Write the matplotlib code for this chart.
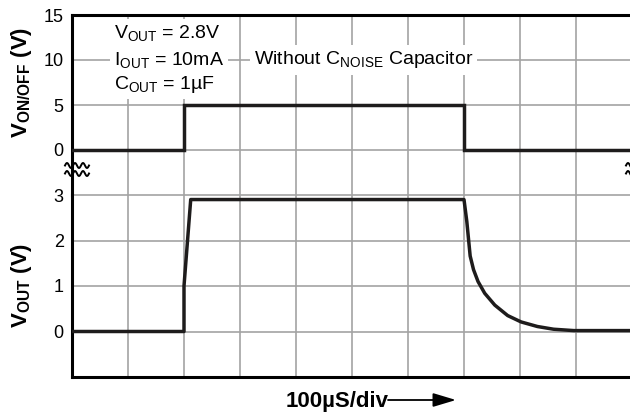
import matplotlib.pyplot as plt
from matplotlib.patches import FancyArrowPatch
import numpy as np

plt.rcParams['font.family'] = 'Liberation Sans'
plt.rcParams['mathtext.fontset'] = 'custom'
plt.rcParams['mathtext.rm'] = 'Liberation Sans'
plt.rcParams['mathtext.bf'] = 'Liberation Sans:bold'
plt.rcParams['mathtext.it'] = 'Liberation Sans:italic'

# time axis in divisions (100us/div)
t_onoff = [0, 2.0, 2.0, 7.0, 7.0, 10]
v_onoff = [0, 0, 5, 5, 0, 0]

t_out = [0, 2.0, 2.0, 2.12, 7.0, 7.05, 7.11, 7.17, 7.25, 7.37, 7.55, 7.78,
         8.02, 8.31, 8.6, 8.96, 10]
v_out = [0, 0, 1.0, 2.9, 2.9, 2.42, 1.66, 1.36, 1.10, 0.84, 0.58, 0.35,
         0.21, 0.11, 0.05, 0.02, 0.02]

top_ticks = [0, 5, 10, 15]
bot_ticks = [0, 1, 2, 3]

W, H = 630, 416
GRID = '#a3a3a3'
TRACE = '#1e1c1c'


def box(x0, y0, x1, y1):
    return [x0 / W, 1 - y1 / H, (x1 - x0) / W, (y1 - y0) / H]


fig = plt.figure(figsize=(6.3, 4.16), dpi=100)
ax_top = fig.add_axes(box(72, 15, 632, 195))
ax_bot = fig.add_axes(box(72, 195, 632, 377))

for ax in (ax_top, ax_bot):
    ax.set_xlim(0, 10)
    ax.set_xticks(range(11))
    ax.set_xticklabels([])
    ax.grid(True, color=GRID, lw=1.2)
    ax.set_axisbelow(True)
    ax.tick_params(length=0, labelsize=13, pad=6)
    for s in ax.spines.values():
        s.set_linewidth(2.2)
        s.set_color('black')

ax_top.set_ylim(-5, 15)
ax_top.set_yticks([-5] + top_ticks)
ax_top.set_yticklabels([''] + [str(v) for v in top_ticks])
ax_top.spines['bottom'].set_visible(False)
ax_top.spines['right'].set_visible(False)

ax_bot.set_ylim(-1, 3)
ax_bot.set_yticks(bot_ticks)
ax_bot.set_yticklabels([str(v) for v in bot_ticks])
ax_bot.spines['top'].set_visible(False)
ax_bot.spines['right'].set_visible(False)

ax_top.plot(t_onoff, v_onoff, color=TRACE, lw=2.5, solid_joinstyle='miter', zorder=4)
ax_bot.plot(t_out, v_out, color=TRACE, lw=2.5, solid_joinstyle='round', zorder=4)

# conditions text
bb = dict(facecolor='white', edgecolor='none', pad=3)
fs = 14
ax_top.text(0.75, 13.0, r'$\mathregular{V_{OUT}}$ = 2.8V', fontsize=fs, va='center', bbox=bb)
ax_top.text(0.75, 10.0, r'$\mathregular{I_{OUT}}$ = 10mA', fontsize=fs, va='center', bbox=bb)
ax_top.text(0.75, 7.3, r'$\mathregular{C_{OUT}}$ = 1µF', fontsize=fs, va='center', bbox=bb)
ax_top.text(3.25, 10.0, r'Without $\mathregular{C_{NOISE}}$ Capacitor', fontsize=fs,
            va='center', bbox=bb)

# axis labels
fig.text(21 / W, 1 - 82 / H, r'$\mathbf{V_{ON/OFF}}$ (V)', rotation=90, fontsize=16,
         fontweight='bold', ha='center', va='center')
fig.text(21 / W, 1 - 285 / H, r'$\mathbf{V_{OUT}}$ (V)', rotation=90, fontsize=16,
         fontweight='bold', ha='center', va='center')
fig.text(286 / W, 1 - 401 / H, '100µS/div', fontsize=16, fontweight='bold',
         ha='left', va='center')
fig.add_artist(FancyArrowPatch((388 / W, 1 - 400 / H), (456 / W, 1 - 400 / H),
                               transform=fig.transFigure, color='black', lw=1.3,
                               arrowstyle='-|>,head_length=1.0,head_width=0.3',
                               mutation_scale=14, shrinkA=0, shrinkB=0))

# axis break marks
xs = np.linspace(-12, 12, 60)
for cx in (77, 638):
    for cy in (165.5, 173.5):
        ys = cy + 2.5 * np.sin(xs / 12 * 2 * np.pi * 1.5)
        fig.add_artist(plt.Line2D((cx + xs) / W, 1 - ys / H, transform=fig.transFigure,
                                  color='black', lw=1.4))

fig.savefig('out.png', dpi=100)
